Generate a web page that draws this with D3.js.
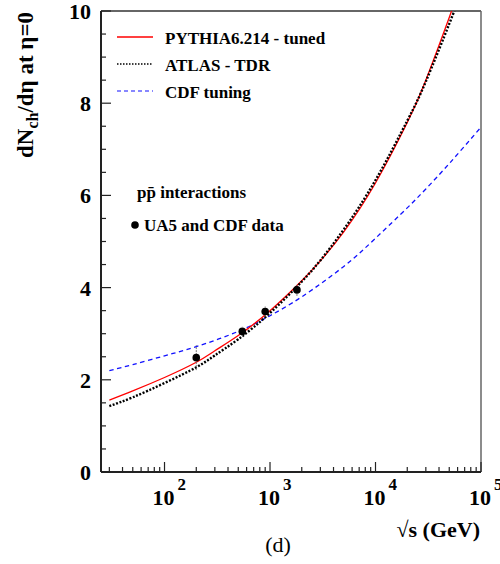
<!DOCTYPE html>
<html>
<head>
<meta charset="utf-8">
<script src="https://cdn.jsdelivr.net/npm/d3@7"></script>
<style>
  html, body { margin: 0; padding: 0; background: #fff; }
  svg { display: block; }
  text { font-family: "Liberation Serif", "Times New Roman", serif; }
</style>
</head>
<body>
<svg id="chart" width="500" height="564"></svg>
<script>
// ---- data ----
const energies    = [30, 50, 100, 200, 300, 500, 1000, 2000, 3000, 5000, 10000, 20000, 30000, 50000, 60000];
const pythiaTuned = [1.56, 1.76, 2.05, 2.38, 2.63, 2.96, 3.50, 4.15, 4.58, 5.21, 6.27, 7.58, 8.50, 9.86, 10.4];
const atlasTDR    = [1.43, 1.62, 1.93, 2.27, 2.53, 2.88, 3.45, 4.13, 4.59, 5.26, 6.33, 7.62, 8.47, 9.72, 10.2];
const cdfEnergies = [30, 50, 100, 200, 500, 1000, 2000, 5000, 10000, 20000, 30000, 50000, 100000];
const cdfTuning   = [2.20, 2.33, 2.52, 2.72, 3.05, 3.39, 3.80, 4.46, 5.07, 5.73, 6.14, 6.69, 7.48];

const dataEnergies = [200, 546, 900, 1800];
const dataValues   = [2.48, 3.05, 3.48, 3.95];
const dataErrors   = [0.27, 0.10, 0.11, 0.13];

const xMajorTicks = [100, 1000, 10000, 100000];
const xTickExponents = ["2", "3", "4", "5"];
const yMajorTicks = [0, 2, 4, 6, 8, 10];
const yTickLabels = ["0", "2", "4", "6", "8", "10"];

const legendLabels = ["PYTHIA6.214 - tuned", "ATLAS - TDR", "CDF tuning"];

// ---- layout ----
const svg = d3.select("#chart");
const pL = 101, pR = 481, pT = 11, pB = 472;
const x = d3.scaleLog().domain([25, 100000]).range([pL, pR]);
const y = d3.scaleLinear().domain([0, 10]).range([pB, pT]);

const FONT = '"Liberation Serif", "Times New Roman", serif';

svg.append("clipPath").attr("id", "plotclip")
  .append("rect").attr("x", pL).attr("y", pT).attr("width", pR - pL).attr("height", pB - pT);

// frame (top/right)
svg.append("line").attr("x1", pL).attr("x2", pR).attr("y1", pT).attr("y2", pT)
  .attr("stroke", "#666").attr("stroke-width", 2);
svg.append("line").attr("x1", pR).attr("x2", pR).attr("y1", pT).attr("y2", pB)
  .attr("stroke", "#666").attr("stroke-width", 1.5);

// ---- curves ----
const g = svg.append("g").attr("clip-path", "url(#plotclip)");
const lineGen = d3.line().x(d => x(d[0])).y(d => y(d[1])).curve(d3.curveNatural);

g.append("path")
  .attr("d", lineGen(cdfEnergies.map((e, i) => [e, cdfTuning[i]])))
  .attr("fill", "none").attr("stroke", "#1010ff").attr("stroke-width", 1.3)
  .attr("stroke-dasharray", "4.5,3.5");

g.append("path")
  .attr("d", lineGen(energies.map((e, i) => [e, pythiaTuned[i]])))
  .attr("fill", "none").attr("stroke", "#ff0000").attr("stroke-width", 1.3);

g.append("path")
  .attr("d", lineGen(energies.map((e, i) => [e, atlasTDR[i]])))
  .attr("fill", "none").attr("stroke", "#000").attr("stroke-width", 2.4)
  .attr("stroke-dasharray", "2,1.6");

// ---- data points ----
dataEnergies.forEach((e, i) => {
  g.append("line")
    .attr("x1", x(e)).attr("x2", x(e))
    .attr("y1", y(dataValues[i] - dataErrors[i])).attr("y2", y(dataValues[i] + dataErrors[i]))
    .attr("stroke", "#777").attr("stroke-width", 1).attr("stroke-dasharray", "2,1");
  g.append("circle").attr("cx", x(e)).attr("cy", y(dataValues[i])).attr("r", 3.8).attr("fill", "#000");
});

// ---- axes ----
const axisColor = "#222";
svg.append("line").attr("x1", pL).attr("x2", pL).attr("y1", pT).attr("y2", pB)
  .attr("stroke", axisColor).attr("stroke-width", 2);
svg.append("line").attr("x1", pL).attr("x2", pR).attr("y1", pB).attr("y2", pB)
  .attr("stroke", axisColor).attr("stroke-width", 2);

// y ticks
const yMinor = d3.range(0, 10.01, 0.5).filter(v => !yMajorTicks.includes(v));
yMajorTicks.forEach(v => {
  svg.append("line").attr("x1", pL).attr("x2", pL + 10).attr("y1", y(v)).attr("y2", y(v))
    .attr("stroke", axisColor).attr("stroke-width", 1.2);
});
yMinor.forEach(v => {
  svg.append("line").attr("x1", pL).attr("x2", pL + 5).attr("y1", y(v)).attr("y2", y(v))
    .attr("stroke", axisColor).attr("stroke-width", 1.2);
});
yMajorTicks.forEach((v, i) => {
  svg.append("text").attr("x", 91).attr("y", y(v) + 8)
    .attr("text-anchor", "end").attr("font-size", 22).attr("font-weight", "bold")
    .attr("font-family", FONT).text(yTickLabels[i]);
});

// x ticks
const xMinor = [];
[10, 100, 1000, 10000].forEach(dec => {
  for (let k = 2; k <= 9; k++) { const v = dec * k; if (v >= 25 && v <= 100000) xMinor.push(v); }
});
xMajorTicks.forEach(v => {
  svg.append("line").attr("x1", x(v)).attr("x2", x(v)).attr("y1", pB).attr("y2", pB - 10)
    .attr("stroke", axisColor).attr("stroke-width", 1.2);
});
xMinor.forEach(v => {
  svg.append("line").attr("x1", x(v)).attr("x2", x(v)).attr("y1", pB).attr("y2", pB - 5)
    .attr("stroke", axisColor).attr("stroke-width", 1.2);
});
xMajorTicks.forEach((v, i) => {
  const t = svg.append("text").attr("x", x(v) - 12).attr("y", 505)
    .attr("font-size", 22).attr("font-weight", "bold").attr("font-family", FONT);
  t.append("tspan").text("10");
  t.append("tspan").attr("dx", 3).attr("dy", -15).attr("font-size", 17).text(xTickExponents[i]);
});

// axis titles
svg.append("text").attr("x", 480).attr("y", 537).attr("text-anchor", "end")
  .attr("font-size", 22).attr("font-weight", "bold").attr("font-family", FONT)
  .text("\u221As (GeV)");

const yt = svg.append("text").attr("transform", "translate(33,12) rotate(-90)")
  .attr("text-anchor", "end").attr("font-size", 23).attr("font-weight", "bold").attr("font-family", FONT);
yt.append("tspan").text("dN");
yt.append("tspan").attr("dy", 5).attr("font-size", 16).text("ch");
yt.append("tspan").attr("dy", -5).text("/d\u03B7 at \u03B7=0");

svg.append("text").attr("x", 278).attr("y", 552).attr("text-anchor", "middle")
  .attr("font-size", 22).attr("font-family", FONT).text("(d)");

// ---- legend ----
const legendStyles = [
  { stroke: "#ff0000", width: 1.3, dash: null },
  { stroke: "#000", width: 1.6, dash: "1.5,1.5" },
  { stroke: "#1010ff", width: 1.2, dash: "4,3" }
];
legendLabels.forEach((lab, i) => {
  const by = 44 + i * 27;
  const ln = svg.append("line").attr("x1", 117).attr("x2", 153).attr("y1", by - 7).attr("y2", by - 7)
    .attr("stroke", legendStyles[i].stroke).attr("stroke-width", legendStyles[i].width);
  if (legendStyles[i].dash) ln.attr("stroke-dasharray", legendStyles[i].dash);
  svg.append("text").attr("x", 165).attr("y", by).attr("font-size", 17).attr("font-weight", "bold")
    .attr("font-family", FONT).text(lab);
});

// annotation
svg.append("text").attr("x", 137).attr("y", 198).attr("font-size", 17).attr("font-weight", "bold")
  .attr("font-family", FONT).text("pp\u0304 interactions");
svg.append("circle").attr("cx", 135).attr("cy", 225).attr("r", 3.8).attr("fill", "#000");
svg.append("text").attr("x", 144).attr("y", 231).attr("font-size", 17).attr("font-weight", "bold")
  .attr("font-family", FONT).text("UA5 and CDF data");
</script>
</body>
</html>
